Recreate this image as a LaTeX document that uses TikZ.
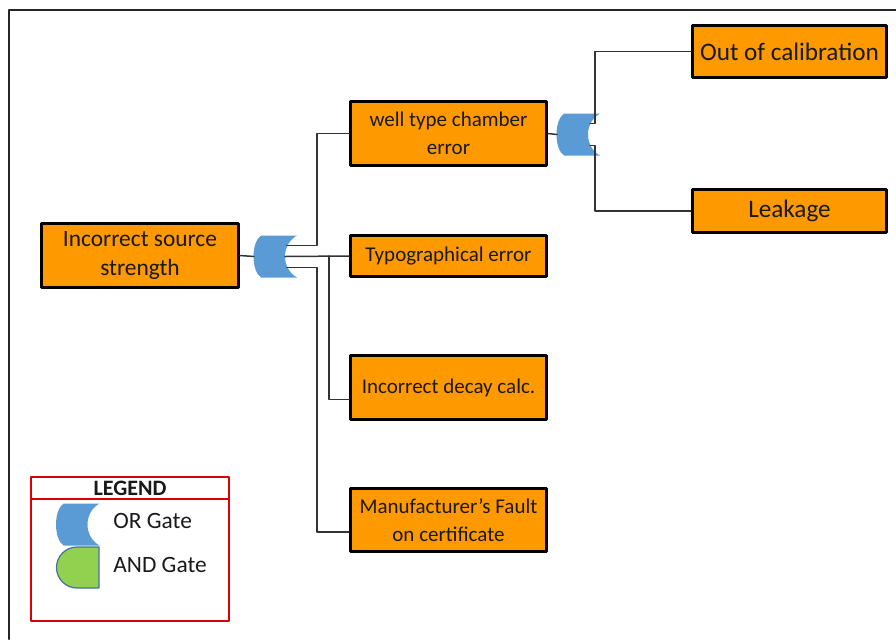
\documentclass[tikz,border=0pt]{standalone}
\usepackage{fontspec}
\setmainfont{Carlito}
\usepackage{xcolor}
\usetikzlibrary{calc}
\definecolor{faultorange}{HTML}{FF9900}
\definecolor{gateblue}{HTML}{5B9BD5}
\definecolor{gategreen}{HTML}{92D050}
\definecolor{gateedge}{HTML}{41719C}
\tikzset{
  fault/.style={draw=black, line width=1.5pt, fill=faultorange, align=center,
    inner sep=1pt, text=black!90, minimum width=98pt},
  bigtxt/.style={font=\fontsize{11.7}{14.5}\selectfont},
  midtxt/.style={font=\fontsize{10.5}{13.8}\selectfont},
  toptxt/.style={font=\fontsize{12.6}{15}\selectfont},
  conn/.style={draw=black!80, line width=0.75pt},
  orgate/.pic={
    \fill[gateblue] (-14,-21) -- (22,-21)
      .. controls (6,-12) and (6,12) .. (22,21) -- (-14,21)
      .. controls (-24,14) and (-24,-14) .. (-14,-21) -- cycle;
    \coordinate (-in) at (-21,0);
    \coordinate (-top) at (12,-11);
    \coordinate (-mid) at (10,0);
    \coordinate (-bot) at (12,11);
  },
  every picture/.style={line cap=round, line join=round}
}

\begin{document}
\begin{tikzpicture}[x=0.5pt, y=-0.5pt]
  \useasboundingbox (0,0) rectangle (896,639);
  % frame
  \draw[black!85, line width=1pt] (9,639) -- (9,10) -- (896,10);

  % top event and first gate
  \node[fault, bigtxt, minimum height=32pt, minimum width=98.5pt] (src) at (140,255.5) {Incorrect source\\strength};
  \pic (gA) at (275,256.5) {orgate};

  % second level
  \node[fault, midtxt, minimum height=32pt] (well) at (448.5,133.5) {well type chamber\\error};
  \node[fault, midtxt, minimum height=20.5pt] (typo) at (448.5,256) {Typographical error};
  \node[fault, midtxt, minimum height=32pt] (decay) at (448.5,387.5) {Incorrect decay calc.};
  \node[fault, midtxt, minimum height=31.5pt] (manu) at (448.5,520) {Manufacturer's Fault\\on certificate};

  % second gate and its events
  \pic (gB) at (578,134.5) {orgate};
  \node[fault, toptxt, minimum width=97pt, minimum height=26pt] (calib) at (789.5,51.5) {Out of calibration};
  \node[fault, toptxt, minimum width=97pt, minimum height=21.5pt] (leak) at (789.5,211) {Leakage};

  % connectors
  \draw[conn] (src.east) -- (gA-in);
  \draw[conn] (gA-top) -- ++(30,0) |- (well.west);
  \draw[conn] (gA-mid) -- (typo.west);
  \draw[conn] ([xshift=-10pt]typo.west) |- ([yshift=-6pt]decay.west);
  \draw[conn] (gA-bot) -- ++(30,0) |- ([yshift=-6pt]manu.west);
  \draw[conn] (well.east) -- (gB-in);
  \draw[conn] (gB-top) -- ++(5,0) |- (calib.west);
  \draw[conn] (gB-bot) -- ++(5,0) |- (leak.west);

  % legend
  \draw[red!85!black, line width=1pt] (31,477) rectangle (229,621);
  \draw[red!85!black, line width=1pt] (31,499) -- (229,499);
  \node[font=\bfseries\fontsize{11}{13}\selectfont, text=black!90] (legtitle) at (130,488.5) {LEGEND};
  \pic (gOR) at (77.5,524.5) {orgate};
  \draw[fill=gategreen, draw=gateedge, line width=0.6pt]
    (99,547) -- (77,547) arc (270:90:20.5) -- (99,588) -- cycle;
  \node[anchor=west, font=\fontsize{11.7}{14}\selectfont, inner sep=0pt, text=black!90] (legor) at (113,521) {OR Gate};
  \node[anchor=west, font=\fontsize{11.7}{14}\selectfont, inner sep=0pt, text=black!90] (legand) at (113,565) {AND Gate};
\end{tikzpicture}
\end{document}
